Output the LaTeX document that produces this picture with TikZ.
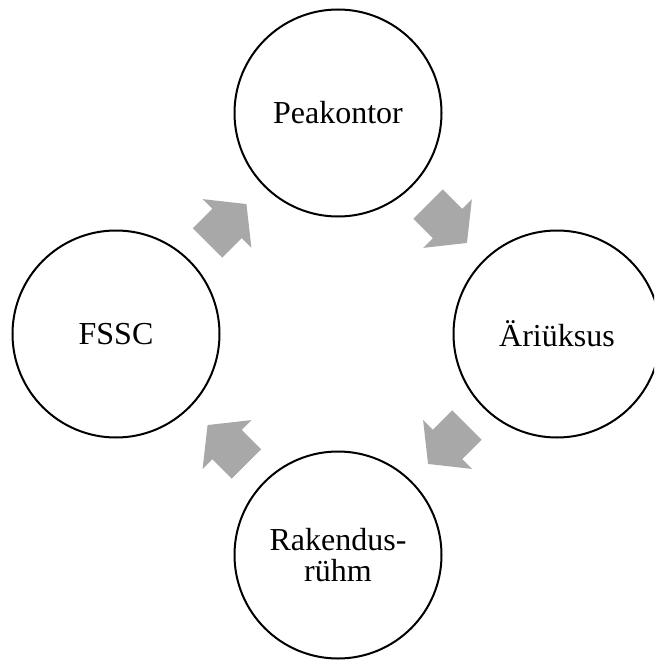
\documentclass[tikz,border=0pt]{standalone}
\usepackage{fontspec}
\setmainfont{Liberation Serif}
\usetikzlibrary{calc}
\definecolor{arrowgrey}{RGB}{168,168,168}
\tikzset{
  unit/.style={circle, draw=black, line width=2pt, minimum size=207pt,
    inner sep=0pt, outer sep=0pt, align=center,
    font=\fontsize{32}{31}\selectfont},
  cyclearrow/.pic={
    \fill[arrowgrey] (-27.5,-20.7) -- (0,-20.7) -- (0,-34.5) -- (27.5,0)
      -- (0,34.5) -- (0,20.7) -- (-27.5,20.7) -- cycle;
  }
}
\begin{document}
\begin{tikzpicture}[x=1pt, y=-1pt]
  \useasboundingbox (0,0) rectangle (654,661);
  \clip (0,0) rectangle (654,661);
  % the four units of the cycle
  \node[unit] (peak) at (338,113) {Peakontor};
  \node[unit] (ari)  at (557,334) {Äriüksus};
  \node[unit] (rak)  at (338,555) {Rakendus-\\rühm};
  \node[unit] (fssc) at (116,334) {FSSC};
  % arrow positions halfway between neighbouring units
  \coordinate (a1) at ($(fssc)!0.5!(peak)$);
  \coordinate (a2) at ($(peak)!0.5!(ari)$);
  \coordinate (a3) at ($(ari)!0.5!(rak)$);
  \coordinate (a4) at ($(rak)!0.5!(fssc)$);
  % clockwise block arrows
  \pic[rotate=45]   at (a1) {cyclearrow};
  \pic[rotate=-45]  at (a2) {cyclearrow};
  \pic[rotate=-135] at (a3) {cyclearrow};
  \pic[rotate=135]  at (a4) {cyclearrow};
\end{tikzpicture}
\end{document}
